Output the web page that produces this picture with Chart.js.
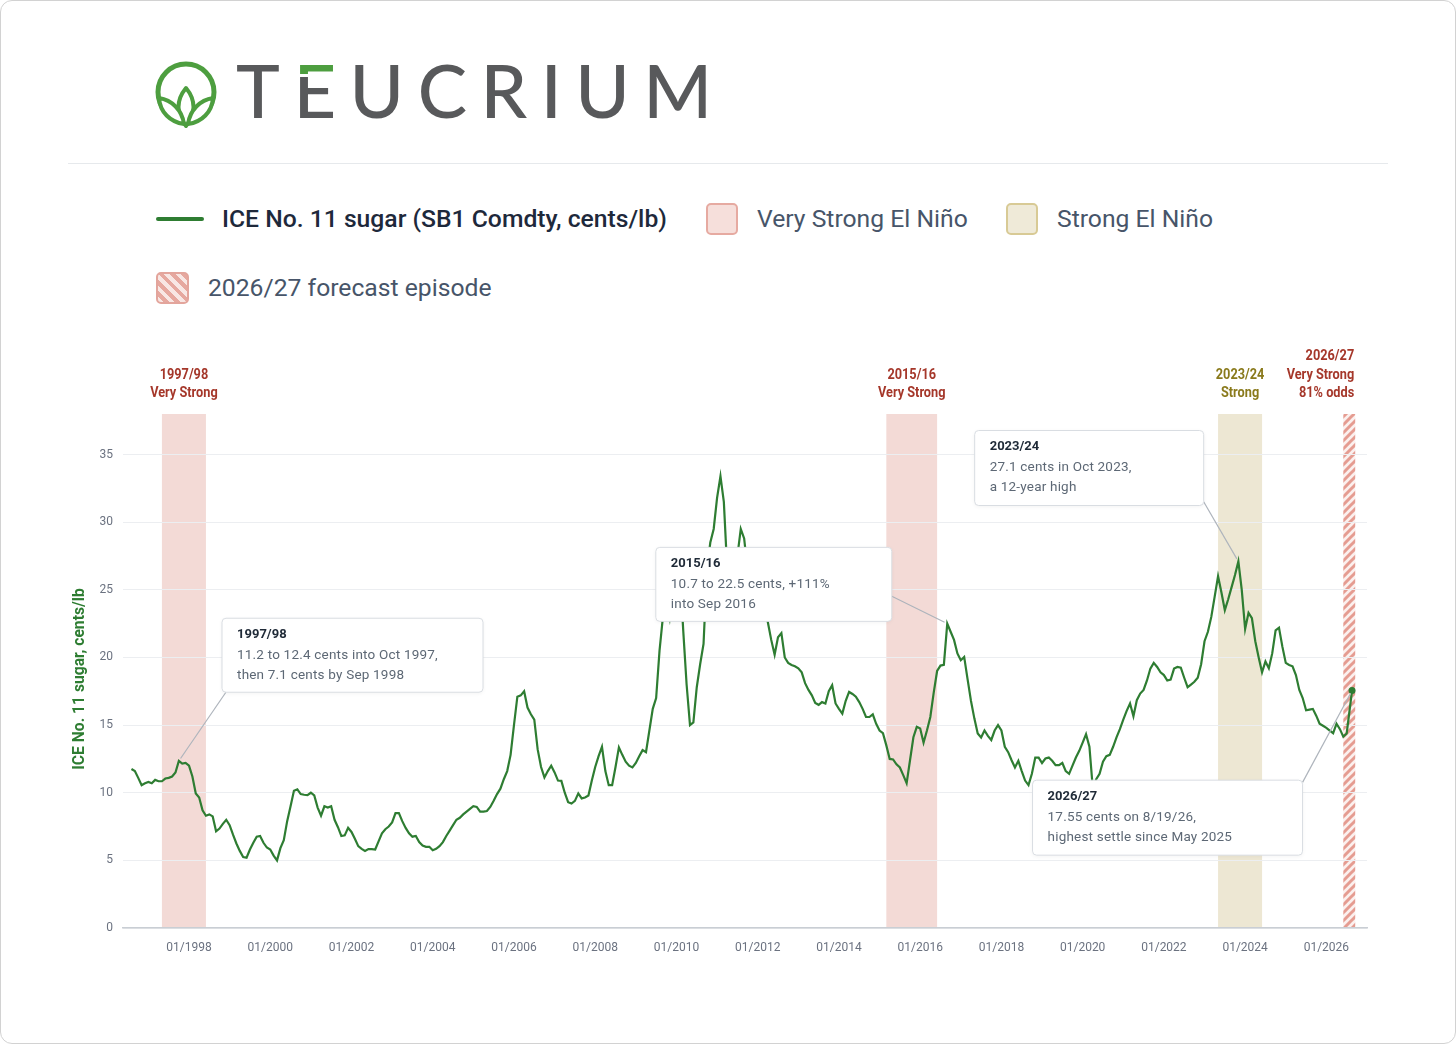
<!DOCTYPE html>
<html>
<head>
<meta charset="utf-8">
<script src="https://cdn.jsdelivr.net/npm/chart.js@4.4.1/dist/chart.umd.min.js"></script>
<style>
  html, body { margin: 0; padding: 0; background: #fff; }
  body { width: 1456px; height: 1044px; position: relative; overflow: hidden; font-family: Roboto, sans-serif; }
  .frame { position: absolute; left: 0; top: 0; width: 1454px; height: 1042px; border: 1px solid #d2d2d2; border-radius: 12px; }
  .icon { position: absolute; left: 152px; top: 58px; }
  .brand { position: absolute; left: 236px; top: 45px; font-family: Lato, sans-serif; font-weight: 500; font-size: 74px; letter-spacing: 13.5px; color: #58595b; white-space: nowrap; }
  .brand span { display: inline-block; line-height: 1.2; }
  .brand .e { background: linear-gradient(to bottom, #4d9e3f 0, #4d9e3f 28px, transparent 28px, transparent 31px, #58595b 31px); -webkit-background-clip: text; background-clip: text; color: transparent; }
  .rule { position: absolute; left: 68px; top: 163px; width: 1320px; height: 1px; background: #e6e9ec; }
  .leg { position: absolute; font-size: 24.7px; line-height: 32px; white-space: nowrap; color: #475569; }
  .leg.main { color: #1e293b; font-weight: 500; }
  .sw { position: absolute; box-sizing: border-box; border-radius: 5px; }
  #chart { position: absolute; left: 0; top: 0; }
</style>
</head>
<body>
<div class="frame"></div>
<svg class="icon" width="68" height="72" viewBox="0 0 68 72">
  <circle cx="34" cy="34" r="28" fill="none" stroke="#4d9e3f" stroke-width="5"/>
  <path d="M34 68 C24 56 24 42 34 30 C44 42 44 56 34 68 Z" fill="#fff" stroke="#4d9e3f" stroke-width="4" stroke-linejoin="round"/>
  <path d="M32 66 C18 64 8 54 7 40 C20 42 30 52 32 66 Z" fill="#fff" stroke="#4d9e3f" stroke-width="4" stroke-linejoin="round"/>
  <path d="M36 66 C50 64 60 54 61 40 C48 42 38 52 36 66 Z" fill="#fff" stroke="#4d9e3f" stroke-width="4" stroke-linejoin="round"/>
</svg>
<div class="brand"><span>T</span><span class="e">E</span><span>UCRIUM</span></div>
<div class="rule"></div>

<div class="sw" style="left:156px;top:217px;width:48px;height:4px;border-radius:2px;background:#2e7d32;"></div>
<div class="leg main" style="left:222px;top:203px;">ICE No. 11 sugar (SB1 Comdty, cents/lb)</div>
<div class="sw" style="left:706px;top:203px;width:32px;height:32px;background:#f6dfdb;border:2px solid #e6aaa1;"></div>
<div class="leg" style="left:757px;top:203px;">Very Strong El Niño</div>
<div class="sw" style="left:1006px;top:203px;width:32px;height:32px;background:#efead8;border:2px solid #d8ca95;"></div>
<div class="leg" style="left:1057px;top:203px;">Strong El Niño</div>
<div class="sw" style="left:156px;top:272px;width:33px;height:32px;border:2px solid #e3a59c;background:repeating-linear-gradient(45deg,#f8e7e4 0 4px,#e6a89f 4px 8px);"></div>
<div class="leg" style="left:208px;top:272px;">2026/27 forecast episode</div>

<canvas id="chart" width="1456" height="1044"></canvas>

<script>
// monthly ICE No. 11 sugar, cents/lb, Aug 1996 .. Aug 2026 (last = 8/19/26 settle)
const firstMonth = "1996-08";
const lastSettleDate = "2026-08-19";
const sugar = [
  11.75, 11.6, 11.1, 10.55, 10.7,                                        // 1996
  10.8, 10.7, 10.95, 10.85, 10.85, 11.05, 11.1, 11.2, 11.5, 12.35, 12.15, 12.2, // 1997
  12.0, 11.2, 9.95, 9.65, 8.7, 8.3, 8.4, 8.25, 7.15, 7.35, 7.7, 8.0,     // 1998
  7.6, 6.9, 6.25, 5.7, 5.25, 5.2, 5.8, 6.3, 6.75, 6.8, 6.3, 5.95,        // 1999
  5.8, 5.35, 5.0, 5.9, 6.5, 7.9, 9.0, 10.15, 10.25, 9.9, 9.85, 9.82,     // 2000
  10.0, 9.8, 8.9, 8.3, 9.0, 8.9, 9.0, 8.0, 7.45, 6.8, 6.85, 7.4,         // 2001
  7.1, 6.6, 6.05, 5.85, 5.7, 5.83, 5.83, 5.8, 6.4, 7.0, 7.3, 7.5,        // 2002
  7.8, 8.5, 8.5, 7.9, 7.4, 7.0, 6.75, 6.8, 6.35, 6.1, 6.0, 6.0,          // 2003
  5.75, 5.85, 6.05, 6.35, 6.8, 7.2, 7.6, 8.0, 8.15, 8.4, 8.6, 8.8,       // 2004
  9.0, 8.95, 8.6, 8.6, 8.65, 8.95, 9.4, 9.9, 10.3, 11.0, 11.6, 12.8,     // 2005
  15.0, 17.1, 17.2, 17.5, 16.3, 15.8, 15.4, 13.2, 11.9, 11.13, 11.6, 12.0, // 2006
  11.5, 10.9, 10.88, 10.0, 9.3, 9.2, 9.4, 9.95, 9.58, 9.65, 9.8, 10.9,   // 2007
  11.9, 12.7, 13.4, 11.6, 10.56, 10.56, 11.9, 13.35, 12.8, 12.3, 12.0, 11.87, // 2008
  12.2, 12.7, 13.15, 13.0, 14.6, 16.2, 17.0, 20.5, 23.0, 24.5, 23.0, 25.5, // 2009
  27.5, 26.5, 22.0, 18.0, 15.0, 15.2, 17.8, 19.5, 21.0, 26.5, 28.5, 29.5, // 2010
  31.8, 33.4, 31.5, 26.5, 23.8, 24.2, 27.5, 29.5, 28.8, 26.5, 25.5, 23.5, // 2011
  23.8, 24.8, 24.0, 22.6, 21.3, 20.2, 21.5, 21.8, 20.0, 19.6, 19.45, 19.35, // 2012
  19.2, 18.9, 18.1, 17.6, 17.2, 16.64, 16.5, 16.7, 16.6, 17.5, 17.95, 16.6, // 2013
  16.2, 15.85, 16.8, 17.45, 17.3, 17.1, 16.7, 16.2, 15.6, 15.6, 15.8, 15.1, // 2014
  14.6, 14.4, 13.5, 12.5, 12.46, 12.1, 11.87, 11.3, 10.7, 12.4, 14.1, 14.87, // 2015
  14.75, 13.7, 14.6, 15.6, 17.4, 19.0, 19.4, 19.45, 22.5, 21.9, 21.3, 20.3, // 2016
  19.8, 20.04, 18.4, 16.8, 15.5, 14.38, 14.08, 14.6, 14.2, 13.9, 14.6, 15.0, // 2017
  14.6, 13.4, 13.0, 12.4, 11.87, 12.36, 11.6, 10.9, 10.56, 11.4, 12.6, 12.6, // 2018
  12.2, 12.53, 12.6, 12.36, 12.04, 12.04, 12.2, 11.6, 11.4, 12.0, 12.6, 13.1, // 2019
  13.7, 14.33, 13.4, 10.3, 11.0, 11.4, 12.3, 12.7, 12.8, 13.4, 14.1, 14.7, // 2020
  15.4, 16.05, 16.6, 15.66, 16.84, 17.33, 17.6, 18.3, 19.18, 19.6, 19.3, 18.9, // 2021
  18.7, 18.3, 18.36, 19.18, 19.3, 19.25, 18.5, 17.8, 18.0, 18.2, 18.5, 19.5, // 2022
  21.2, 21.9, 23.0, 24.5, 26.0, 24.8, 23.5, 24.3, 25.2, 26.1, 27.1, 25.0, // 2023
  22.1, 23.3, 22.9, 21.2, 20.0, 18.9, 19.7, 19.2, 20.3, 22.0, 22.2, 20.8, // 2024
  19.6, 19.45, 19.35, 18.7, 17.6, 17.0, 16.1, 16.15, 16.2, 15.7, 15.1, 14.95, // 2025
  14.8, 14.6, 14.4, 15.1, 14.7, 14.15, 14.38, 17.55                      // 2026
];

// El Niño episodes
const episodeNames = ["1997/98", "2015/16", "2023/24", "2026/27"];
const episodeStrengths = ["Very Strong", "Very Strong", "Strong", "Very Strong"];
const episodeNotes = ["", "", "", "81% odds"];
const episodeKinds = ["veryStrong", "veryStrong", "strong", "forecast"];
const episodeStarts = ["1997-05", "2015-03", "2023-05", "2026-06"];
const episodeEnds = ["1998-06", "2016-06", "2024-06", "2026-09-17"];

// callouts
const calloutTitles = ["1997/98", "2015/16", "2023/24", "2026/27"];
const calloutLines = [
  ["11.2 to 12.4 cents into Oct 1997,", "then 7.1 cents by Sep 1998"],
  ["10.7 to 22.5 cents, +111%", "into Sep 2016"],
  ["27.1 cents in Oct 2023,", "a 12-year high"],
  ["17.55 cents on 8/19/26,", "highest settle since May 2025"]
];
const calloutPoints = ["1997-10", "2016-09", "2023-11", lastSettleDate];

const yTicks = [0, 5, 10, 15, 20, 25, 30, 35];

// months since Jan 1998 (x axis unit)
function monthIndex(s) {
  const p = s.split("-").map(Number);
  let m = (p[0] - 1998) * 12 + (p[1] - 1);
  if (p[2]) m += (p[2] - 1) / 31;
  return m;
}

const m0 = monthIndex(firstMonth);
const points = sugar.map((v, i) => ({
  x: i === sugar.length - 1 ? monthIndex(lastSettleDate) : m0 + i,
  y: v
}));

const GREEN = "#2e7d32";
const bandFill = { veryStrong: "rgba(236,196,189,0.62)", strong: "rgba(226,216,184,0.62)" };
const labelColor = { veryStrong: "#a5372a", strong: "#8a7a1c", forecast: "#a5372a" };

// callout box layout (x in months, y in cents), size in px
const calloutAt = [[9.75, 22.9], [137.9, 28.14], [232.1, 36.78], [249.2, 10.93]];
const calloutSize = [[261, 74], [236, 74], [229, 75], [270, 75]];
const calloutAnchor = [[0.015, 1], [1, 0.66], [1, 0.95], [1, 0.03]];

function hatchPattern(ctx) {
  const t = document.createElement("canvas");
  t.width = 8; t.height = 8;
  const c = t.getContext("2d");
  c.fillStyle = "#fbf0ee";
  c.fillRect(0, 0, 8, 8);
  c.strokeStyle = "#e59c91";
  c.lineWidth = 3;
  c.beginPath();
  c.moveTo(-2, 10); c.lineTo(10, -2);
  c.moveTo(-6, 6); c.lineTo(6, -6);
  c.moveTo(2, 14); c.lineTo(14, 2);
  c.stroke();
  return ctx.createPattern(t, "repeat");
}

function narrowText(ctx, text, x, y, align, sx) {
  ctx.save();
  ctx.translate(x, y);
  ctx.scale(sx, 1);
  ctx.textAlign = align;
  ctx.fillText(text, 0, 0);
  ctx.restore();
}

const elNinoPlugin = {
  id: "elNino",
  beforeDraw(chart) {
    const { ctx, chartArea: a, scales: { x } } = chart;
    ctx.save();
    episodeStarts.forEach((s, i) => {
      const x0 = x.getPixelForValue(monthIndex(s));
      const x1 = x.getPixelForValue(monthIndex(episodeEnds[i]));
      const kind = episodeKinds[i];
      ctx.fillStyle = kind === "forecast" ? hatchPattern(ctx) : bandFill[kind];
      ctx.fillRect(x0, a.top, x1 - x0, a.bottom - a.top);

      ctx.fillStyle = labelColor[kind];
      ctx.font = "bold 14px Roboto";
      ctx.textBaseline = "middle";
      const lines = [episodeNames[i], episodeStrengths[i]];
      if (episodeNotes[i]) lines.push(episodeNotes[i]);
      const align = kind === "forecast" ? "right" : "center";
      const tx = kind === "forecast" ? x1 - 1 : (x0 + x1) / 2;
      lines.forEach((t, k) => {
        narrowText(ctx, t, tx, a.top - 20.5 - (lines.length - 1 - k) * 18.5, align, 0.91);
      });
    });

    // y axis title
    ctx.save();
    ctx.translate(80, (a.top + a.bottom) / 2 + 8);
    ctx.rotate(-Math.PI / 2);
    ctx.fillStyle = GREEN;
    ctx.font = "bold 17px Roboto";
    ctx.textBaseline = "middle";
    narrowText(ctx, "ICE No. 11 sugar, cents/lb", 0, 0, "center", 0.92);
    ctx.restore();
    ctx.restore();
  },
  afterDatasetsDraw(chart) {
    const { ctx, scales: { x, y } } = chart;
    ctx.save();
    calloutTitles.forEach((title, i) => {
      const bx = x.getPixelForValue(calloutAt[i][0]);
      const by = y.getPixelForValue(calloutAt[i][1]);
      const [w, h] = calloutSize[i];
      const ax = bx + calloutAnchor[i][0] * w;
      const ay = by + calloutAnchor[i][1] * h;
      const pm = monthIndex(calloutPoints[i]);
      const pt = points.reduce((b, p) => Math.abs(p.x - pm) < Math.abs(b.x - pm) ? p : b);
      const px = x.getPixelForValue(pt.x);
      const py = y.getPixelForValue(pt.y);
      const d = Math.hypot(px - ax, py - ay);
      const ex = px - (px - ax) / d * 3;
      const ey = py - (py - ay) / d * 3;

      ctx.strokeStyle = "#aeb4bc";
      ctx.lineWidth = 1.2;
      ctx.beginPath();
      ctx.moveTo(ax, ay);
      ctx.lineTo(ex, ey);
      ctx.stroke();

      ctx.shadowColor = "rgba(0,0,0,0.06)";
      ctx.shadowBlur = 4;
      ctx.shadowOffsetY = 1;
      ctx.fillStyle = "#fff";
      ctx.beginPath();
      ctx.roundRect(bx, by, w, h, 4);
      ctx.fill();
      ctx.shadowColor = "transparent";
      ctx.strokeStyle = "#d9dde2";
      ctx.lineWidth = 1;
      ctx.stroke();

      ctx.textAlign = "left";
      ctx.textBaseline = "middle";
      ctx.fillStyle = "#1f2a37";
      ctx.font = "bold 13px Roboto";
      ctx.fillText(title, bx + 15, by + 16.5);
      ctx.fillStyle = "#5d6875";
      ctx.font = "13.5px Roboto";
      ctx.letterSpacing = "0.2px";
      calloutLines[i].forEach((t, k) => ctx.fillText(t, bx + 15, by + 37.5 + k * 19.5));
      ctx.letterSpacing = "0px";
    });
    ctx.restore();
  }
};

Chart.defaults.font.family = "Roboto, 'Noto Sans', sans-serif";

const lastIndex = sugar.length - 1;
new Chart(document.getElementById("chart").getContext("2d"), {
  type: "line",
  data: {
    datasets: [{
      label: "ICE No. 11 sugar (SB1 Comdty, cents/lb)",
      data: points,
      borderColor: GREEN,
      backgroundColor: GREEN,
      borderWidth: 2.2,
      tension: 0,
      fill: false,
      pointRadius: (c) => (c.dataIndex === lastIndex ? 3.5 : 0),
      pointBorderWidth: 0,
      pointHoverRadius: 0
    }]
  },
  options: {
    responsive: false,
    animation: false,
    events: [],
    layout: { padding: { left: 73, right: 89, top: 414, bottom: 86 } },
    scales: {
      x: {
        type: "linear",
        min: -19.5,
        max: 348,
        grid: { display: false, drawTicks: false },
        border: { display: true, color: "#c9ced4", width: 1.5 },
        ticks: {
          stepSize: 24,
          includeBounds: false,
          padding: 13,
          color: "#6b7280",
          font: { size: 12 },
          maxRotation: 0,
          callback: (v) => {
            const mm = ((v % 12) + 12) % 12 + 1;
            return String(mm).padStart(2, "0") + "/" + (1998 + Math.floor(v / 12));
          }
        },
        afterFit: (s) => { s.height = 30; }
      },
      y: {
        min: 0,
        max: 38,
        grid: { color: "#eceef1", drawTicks: false },
        border: { display: false },
        afterBuildTicks: (s) => { s.ticks = yTicks.map((v) => ({ value: v })); },
        ticks: { padding: 10, color: "#6b7280", font: { size: 12 } },
        afterFit: (s) => { s.width = 50; }
      }
    },
    plugins: {
      legend: { display: false },
      tooltip: { enabled: false }
    }
  },
  plugins: [elNinoPlugin]
});
</script>
</body>
</html>
